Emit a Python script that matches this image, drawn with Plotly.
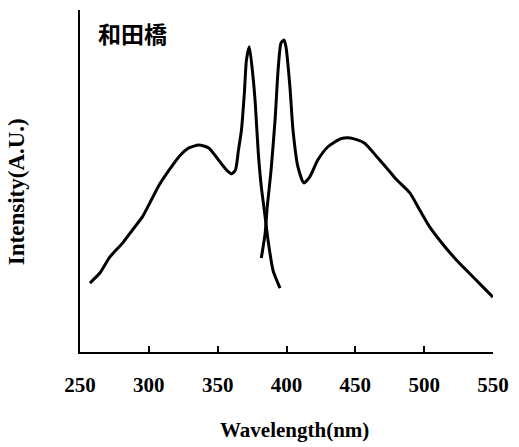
import plotly.graph_objects as go

# Excitation spectrum (left band), wavelength in nm and relative intensity
ex_wl = [257.2, 264.4, 271.6, 280.9, 288.1, 295.3, 301.8, 307.6, 314.7, 321.9,
         329.1, 336.3, 343.5, 350.7, 356.5, 360.1, 362.9, 365.1, 367.3, 369.4,
         370.9, 373.0, 375.9, 377.3, 379.5, 381.7, 384.0, 386.7, 390.3, 395.3]
ex_int = [22.1, 25.3, 30.4, 34.9, 39.1, 43.3, 48.7, 53.6, 58.3, 62.6,
          65.4, 66.3, 65.4, 61.5, 58.3, 57.1, 58.3, 64.7, 71.2, 83.0,
          93.6, 97.8, 87.2, 79.8, 63.8, 52.9, 45.0, 35.5, 26.0, 20.5]

# Emission spectrum (right band)
em_wl = [381.7, 384.5, 386.0, 388.8, 391.7, 393.9, 396.0, 398.2, 399.6, 402.5,
         404.7, 408.3, 412.6, 416.9, 422.7, 429.9, 439.2, 446.4, 456.5, 465.8,
         475.2, 480.2, 489.6, 496.8, 504.0, 514.0, 523.4, 532.7, 542.8, 550.0]
em_int = [30.1, 38.1, 46.5, 58.3, 74.4, 90.4, 99.0, 100.0, 97.8, 84.9,
          71.2, 59.3, 54.2, 56.1, 61.5, 65.7, 68.3, 68.6, 67.0, 62.5,
          57.7, 55.1, 51.0, 45.5, 40.1, 34.3, 29.5, 25.3, 20.8, 17.6]

x_ticks = [250, 300, 350, 400, 450, 500, 550]

serif = "Liberation Serif"

fig = go.Figure()
for wl, inten in ((ex_wl, ex_int), (em_wl, em_int)):
    fig.add_trace(go.Scatter(
        x=wl, y=inten, mode="lines",
        line=dict(color="black", width=3, shape="spline", smoothing=0.6),
        showlegend=False, hoverinfo="skip",
    ))

fig.update_layout(
    width=519, height=447,
    margin=dict(l=80, r=17, t=10, b=95),
    paper_bgcolor="white", plot_bgcolor="white",
    xaxis=dict(
        range=[250, 550], tickvals=x_ticks, ticktext=[str(v) for v in x_ticks],
        showline=True, linecolor="black", linewidth=2,
        ticks="inside", ticklen=6, tickwidth=2, tickcolor="black",
        showgrid=False, zeroline=False, ticklabelstandoff=13,
        tickfont=dict(family=serif, size=21, color="black", weight="bold"),
    ),
    yaxis=dict(
        range=[0, 109.6], showline=True, linecolor="black", linewidth=2,
        showticklabels=False, ticks="", showgrid=False, zeroline=False,
    ),
    annotations=[
        dict(text="Wavelength(nm)", xref="paper", yref="paper",
             x=0.52, y=-0.228, xanchor="center", yanchor="middle",
             showarrow=False,
             font=dict(family=serif, size=21, color="black", weight="bold")),
        dict(text="Intensity(A.U.)", xref="paper", yref="paper",
             x=-0.152, y=0.468, xanchor="center", yanchor="middle",
             textangle=-90, showarrow=False,
             font=dict(family=serif, size=23, color="black", weight="bold")),
        dict(text="和田橋", xref="paper", yref="paper",
             x=0.038, y=0.932, xanchor="left", yanchor="middle",
             showarrow=False,
             font=dict(family="Noto Sans CJK JP", size=23, color="black",
                       weight="bold")),
    ],
)

fig.write_html("out.html")
